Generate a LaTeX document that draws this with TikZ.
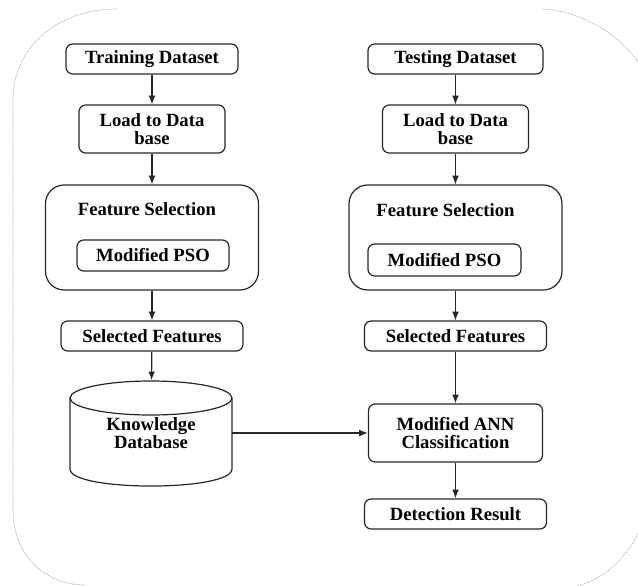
\documentclass[tikz,border=0pt]{standalone}
\usepackage{fontspec}
\setmainfont{Liberation Serif}
\usetikzlibrary{arrows.meta}
\def\px{0.75pt}
\tikzset{
	txt/.style={inner sep=0pt,align=center,font=\fontsize{14}{13.5}\selectfont\bfseries},
	box/.style={txt,draw=black!85,line width=0.9pt,rounded corners=5pt},
	bigbox/.style={box,rounded corners=14pt},
	link/.style={draw=black!85,line width=0.9pt,-{Latex[length=6.5pt,width=5pt]}},
	frame/.style={draw=black!30,line width=0.5pt,dash pattern=on 1pt off 0.6pt}
}
\begin{document}
\begin{tikzpicture}[x=0.75pt,y=-0.75pt]
				\useasboundingbox (0,0) rectangle (638,585);
				\draw[frame] (117,9) .. controls (60,9) and (13,45) .. (13,100) -- (13,510) .. controls (13,555) and (45,585) .. (85,585);
				\draw[frame] (543,9) .. controls (585,12) and (620,35) .. (641,66);
				\draw[frame] (641,528) .. controls (626,560) and (602,580) .. (577,586);
				\node[box,minimum width=172*\px,minimum height=30*\px] (train) at (152,59) {Training Dataset};
				\node[box,minimum width=146*\px,minimum height=48*\px] (tload) at (152,129) {Load to Data\\base};
				\node[bigbox,minimum width=213*\px,minimum height=105*\px] (tfs) at (152,237.5) {};
				\node[txt] (tfstitle) at (147,209) {Feature Selection};
				\node[box,minimum width=152*\px,minimum height=31*\px] (tpso) at (153,255.5) {Modified PSO};
				\node[box,minimum width=182*\px,minimum height=30*\px] (tsel) at (152,336) {Selected Features};
				\node[txt,minimum width=162*\px,minimum height=105*\px] (kdb) at (151,433) {Knowledge\\Database};
				\draw[draw=black!85,line width=0.9pt] (151,398) ellipse [x radius=81,y radius=17];
				\draw[draw=black!85,line width=0.9pt] (70,398) -- (70,469) .. controls (70,491.7) and (232,491.7) .. (232,469) -- (232,398);
				\node[box,minimum width=175*\px,minimum height=30*\px] (test) at (455.5,59) {Testing Dataset};
				\node[box,minimum width=146*\px,minimum height=48*\px] (rload) at (455.5,129) {Load to Data\\base};
				\node[bigbox,minimum width=213*\px,minimum height=105*\px] (rfs) at (455.5,237.5) {};
				\node[txt] (rfstitle) at (445.5,210) {Feature Selection};
				\node[box,minimum width=153*\px,minimum height=32*\px] (rpso) at (444.5,260) {Modified PSO};
				\node[box,minimum width=182*\px,minimum height=30*\px] (rsel) at (455.5,336) {Selected Features};
				\node[box,minimum width=174*\px,minimum height=58*\px] (ann) at (455.5,433) {Modified ANN\\Classification};
				\node[box,minimum width=182*\px,minimum height=30*\px] (det) at (455.5,514) {Detection Result};
				\draw[link] (train) -- (tload);
				\draw[link] (tload) -- (tfs);
				\draw[link] (tfs) -- (tsel);
				\draw[link] (tsel) -- (kdb);
				\draw[link] (test) -- (rload);
				\draw[link] (rload) -- (rfs);
				\draw[link] (rfs) -- (rsel);
				\draw[link] (rsel) -- (ann);
				\draw[link] (ann) -- (det);
				\draw[link] (kdb.east) -- (ann.west);
\end{tikzpicture}
\end{document}
